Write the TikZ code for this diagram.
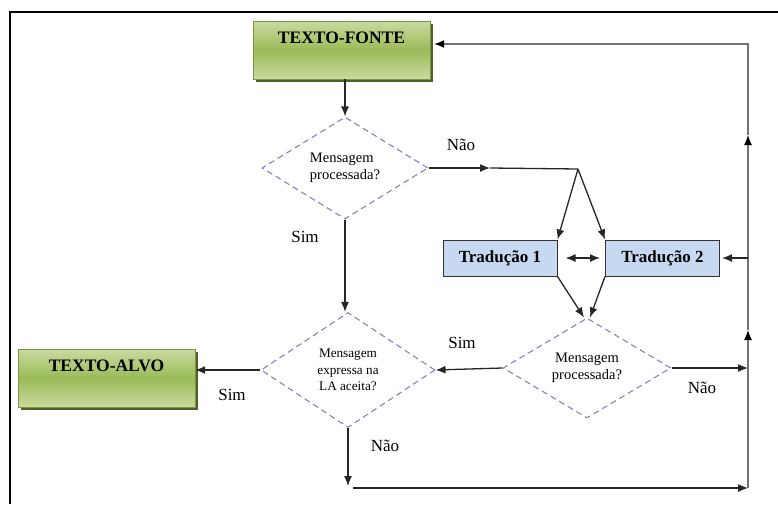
\documentclass[tikz,border=0pt]{standalone}
\usepackage{fontspec}
\setmainfont{Liberation Serif}
\usetikzlibrary{arrows.meta,shapes.geometric,shadows}

\definecolor{verde}{HTML}{9BBB59}
\definecolor{verdeclaro}{HTML}{C9DA9F}
\definecolor{verdeescuro}{HTML}{4F6228}
\definecolor{azul}{HTML}{C6D9F1}
\definecolor{lilas}{HTML}{8E7CC3}

\tikzset{
  textobox/.style={rectangle, draw=verde!80!black, top color=verdeclaro,
    bottom color=verdeclaro, middle color=verde, minimum width=177pt,
    inner sep=0pt, text height=22pt, text depth=36pt,
    font=\fontsize{17.5}{20}\selectfont\bfseries,
    drop shadow={shadow xshift=3pt, shadow yshift=-3pt, fill=verdeescuro, opacity=1}},
  tradbox/.style={rectangle, draw=black!80, fill=azul, line width=1pt,
    minimum width=114pt, minimum height=36pt,
    font=\fontsize{17}{20}\selectfont\bfseries},
  decisao/.style={diamond, aspect=1.6, draw=lilas, dash pattern=on 6pt off 4pt,
    line width=1.1pt, inner sep=0pt, align=center,
    font=\fontsize{14.5}{17}\selectfont},
  rotulo/.style={font=\fontsize{17}{20}\selectfont},
  seta/.style={->, line width=1.3pt, black!85},
  volta/.style={-{Latex[length=10pt,width=8pt,color=black]}, line width=1.2pt, black!55},
}

\begin{document}
\begin{tikzpicture}[x=1pt,y=-1pt,>={Latex[length=10pt,width=8pt]}]
  \useasboundingbox (0,0) rectangle (778,504);
  \draw[line width=1.5pt] (10,504) -- (10,12) -- (778,12);

  % caixas
  \node[textobox] (fonte) at (341.5,50) {TEXTO-FONTE};
  \node[textobox] (alvo) at (106.5,378) {TEXTO-ALVO};
  \node[tradbox] (t1) at (500,258) {Tradução 1};
  \node[tradbox] (t2) at (662.5,258) {Tradução 2};

  % decisoes
  \node[decisao, minimum width=166pt, minimum height=102pt, align=left] (d1) at (345,168) {Mensagem\\processada?};
  \node[decisao, minimum width=174pt, minimum height=115pt,
    font=\fontsize{13.2}{16.5}\selectfont] (d3) at (348,370) {Mensagem\\expressa na\\LA aceita?};
  \node[decisao, minimum width=168pt, minimum height=100pt] (d2) at (587,368) {Mensagem\\processada?};

  \coordinate (nao1) at (490,168);
  \coordinate (split) at (578,169);
  \coordinate (rb) at (748,488);
  \coordinate (rm) at (748,330);
  \coordinate (rt) at (748,135);
  \coordinate (bot) at (348,488);

  \draw[seta] (d1.north |- fonte.south) -- (d1.north);
  \draw[seta] (d1.east) -- (nao1);
  \draw[line width=1.3pt, black!85] (nao1) -- (split);
  \draw[seta] (split) -- (t1.north east);
  \draw[seta] (split) -- (t2.north west);
  \draw[seta, <->] ([xshift=8pt]t1.east) -- ([xshift=-5pt]t2.west);
  \draw[seta] (t1.south east) -- ([xshift=-3pt]d2.north);
  \draw[seta] (t2.south west) -- ([xshift=3pt]d2.north);
  \draw[seta] (d2.west) -- (d3.east);
  \draw[seta] (d2.east) -- (d2.east -| rb);
  \draw[seta] (d1.south) -- (d1.south |- d3.north);
  \draw[seta] (d3.west) -- (d3.west -| alvo.east);
  \draw[seta, shorten >=2pt] (d3.south) -- (bot);
  \draw[seta] ([xshift=5pt]bot) -- (rb);
  \draw[volta] (rb) -- (rm);
  \draw[volta] (rm) -- (rt);
  \draw[volta] (rt) |- ([xshift=4pt,yshift=6pt]fonte.east);
  \draw[seta] (rb |- t2.east) -- ([xshift=2pt]t2.east);

  % rotulos
  \node[rotulo] (nao-a) at (461,145) {Não};
  \node[rotulo] (sim-a) at (305,237) {Sim};
  \node[rotulo] (sim-b) at (462,343) {Sim};
  \node[rotulo] (nao-b) at (702,388) {Não};
  \node[rotulo] (sim-c) at (232,395) {Sim};
  \node[rotulo] (nao-c) at (385,446) {Não};
\end{tikzpicture}
\end{document}
